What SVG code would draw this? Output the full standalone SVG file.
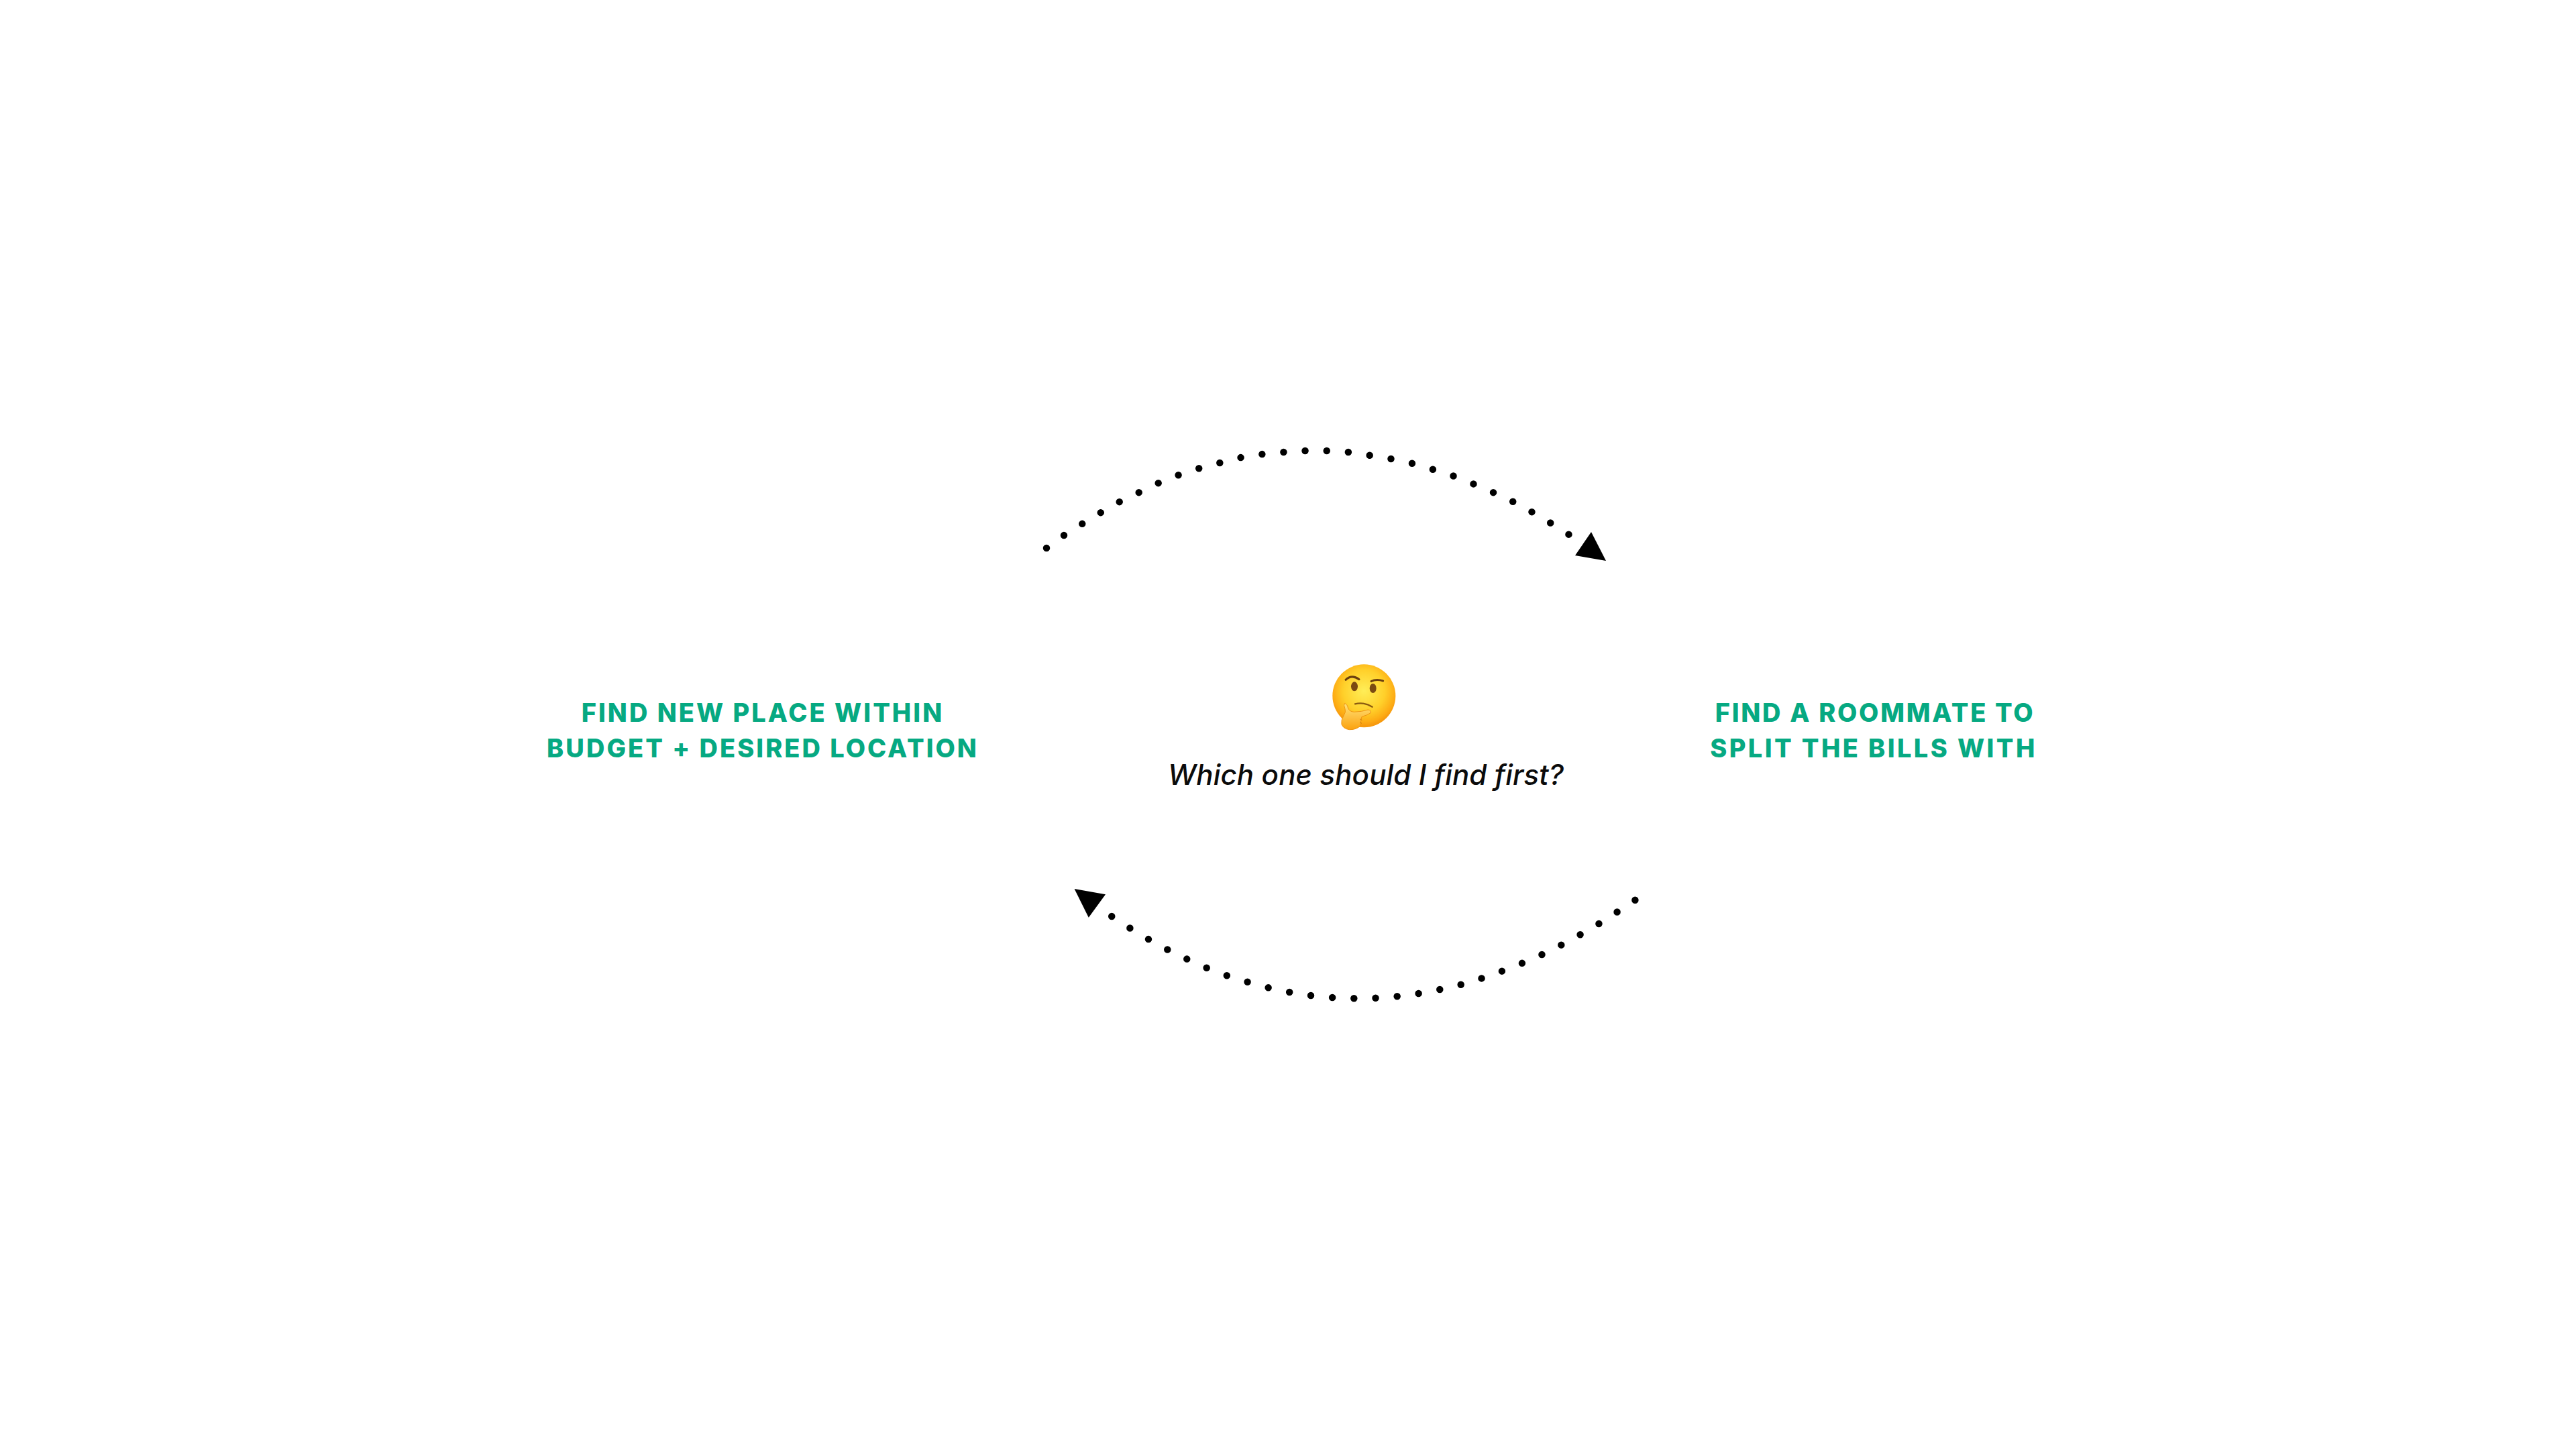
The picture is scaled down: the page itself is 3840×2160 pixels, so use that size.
<svg xmlns="http://www.w3.org/2000/svg" width="3840" height="2160" viewBox="0 0 3840 2160">
<style>
.bg{fill:#fff}
.label{font-family:"Inter","Liberation Sans",sans-serif;font-weight:800;font-size:38px;letter-spacing:3px;fill:#06a982;text-anchor:middle}
.question{font-family:"Inter","Liberation Sans",sans-serif;font-weight:500;font-style:italic;font-size:42px;letter-spacing:0.15px;fill:#0b0b0b;text-anchor:middle}
.dots{fill:none;stroke:#000;stroke-width:10.5;stroke-linecap:round;stroke-dasharray:0 1}
.head{fill:#000}
</style>
<defs>
<radialGradient id="face" cx="0.5" cy="0.42" r="0.55">
<stop offset="0" stop-color="#ffee58"/><stop offset="0.6" stop-color="#ffd02a"/><stop offset="0.9" stop-color="#fdab14"/><stop offset="1" stop-color="#f79a0e"/>
</radialGradient>
<linearGradient id="hand" x1="0" y1="0" x2="0" y2="1">
<stop offset="0" stop-color="#ffe27a"/><stop offset="1" stop-color="#fba20f"/>
</linearGradient>
</defs>
<rect class="bg" width="3840" height="2160"/>
<g id="connectors">
<g id="arrow-top">
<path class="dots" pathLength="26.02" d="M1560 817L1586 798L1613 781L1641 764L1669 748L1698 734L1727 720L1757 708L1788 698L1818 690L1850 682L1882 677L1914 674L1946 672L1978 672L2011 674L2043 679L2074 684L2106 691L2137 700L2168 710L2198 722L2228 735L2258 749L2285 764L2312 780L2339 797"/>
<polygon class="head" points="2372,793 2394,836 2348,828"/>
</g>
<g id="arrow-bottom">
<path class="dots" pathLength="26.02" d="M2437.4 1341.7L2410.4 1359.7L2383.4 1377L2355.9 1393L2327.2 1408.7L2298.5 1423L2268.6 1436L2238.8 1447.7L2208.9 1458.3L2177.9 1467.7L2146.3 1475L2114.8 1481L2082.6 1485.3L2050.5 1487.7L2018.3 1488.3L1986.2 1487L1954 1484L1921.9 1479L1890.3 1472.3L1859.3 1463.7L1828.3 1454L1798.5 1442.7L1768.6 1429.3L1739.9 1415.3L1711.8 1400L1683.7 1383L1656.7 1365.7"/>
<polygon class="head" points="1601.6,1325 1648,1333.3 1622.8,1367.7"/>
</g>
</g>
<g id="node-place">
<text class="label" x="1137" y="1076">FIND NEW PLACE WITHIN</text>
<text class="label" x="1137" y="1129">BUDGET + DESIRED LOCATION</text>
</g>
<g id="node-roommate">
<text class="label" x="2795" y="1076" style="letter-spacing:2.7px">FIND A ROOMMATE TO</text>
<text class="label" x="2793" y="1129" style="letter-spacing:3.4px">SPLIT THE BILLS WITH</text>
</g>
<g id="node-question">
<g id="emoji" transform="translate(1950 960) scale(0.33333)">
<circle cx="250" cy="232" r="141" fill="url(#face)"/>
<path d="M168 160Q195 134 228 158" fill="none" stroke="#6b3f0f" stroke-width="9" stroke-linecap="round"/>
<path d="M282 167Q305 155 335 165" fill="none" stroke="#6b3f0f" stroke-width="9" stroke-linecap="round"/>
<ellipse cx="207" cy="190" rx="15" ry="21" fill="#7a4a12"/>
<ellipse cx="290" cy="198" rx="15" ry="21" fill="#7a4a12"/>
<path d="M210 268Q250 258 287 281" fill="none" stroke="#8a5a10" stroke-width="7" stroke-linecap="round"/>
<path d="M163 266Q175 268 178 285Q183 302 205 304Q240 303 268 294Q282 296 280 308Q262 320 240 325Q234 350 232 368Q212 384 185 383Q158 380 150 360Q146 340 160 318Q170 305 165 290Q158 272 163 266Z" fill="url(#hand)" stroke="#ee9410" stroke-width="3"/>
<path d="M232 335l9 6M232 350l8 5" fill="none" stroke="#c9780c" stroke-width="3"/>
</g>
<text class="question" x="2036" y="1170">Which one should I find first?</text>
</g>
</svg>
